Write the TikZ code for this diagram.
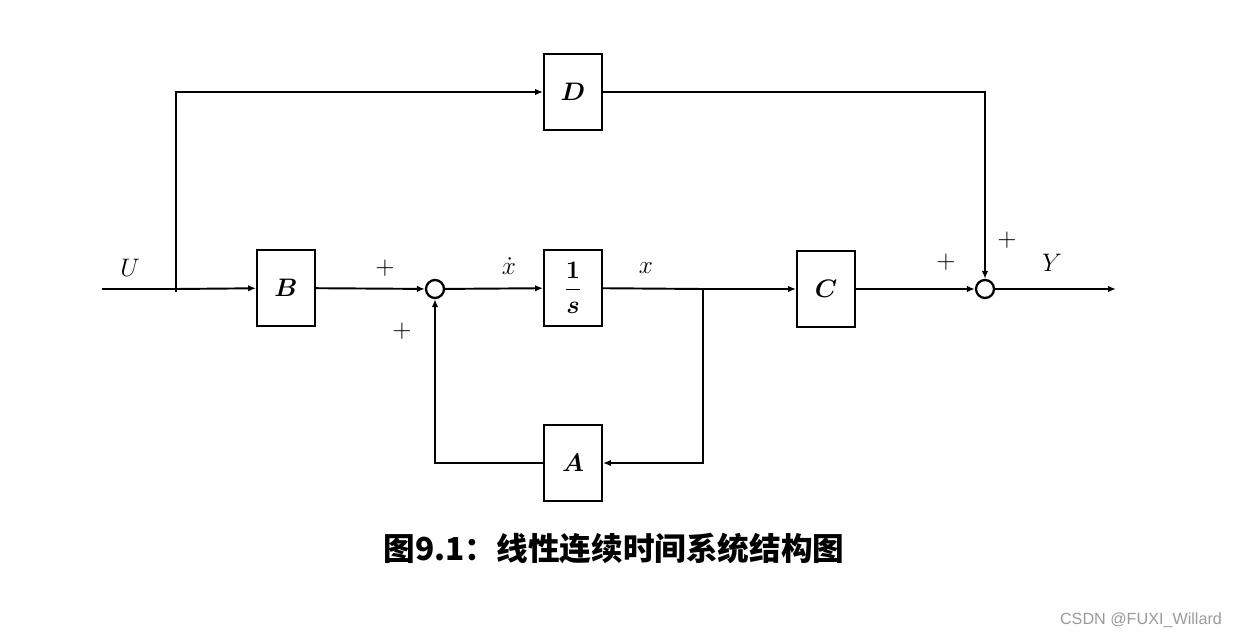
\documentclass[tikz,border=0pt]{standalone}
\usepackage{amsmath,amssymb,bm}
\usepackage{fontspec}
\usetikzlibrary{arrows.meta,positioning,calc}
\newfontfamily\cjk{Noto Sans CJK SC}
\setsansfont{Liberation Sans}
\definecolor{ink}{HTML}{000000}
\definecolor{mark}{HTML}{9A9A9A}

\begin{document}
\begin{tikzpicture}[
  x=0.02cm,y=-0.02cm,
  every node/.style={font=\fontsize{15}{18}\selectfont},
  block/.style={rectangle,draw=ink,line width=1.1pt,minimum width=1.16cm,minimum height=1.52cm,inner sep=0pt},
  sum/.style={circle,draw=ink,line width=1.3pt,fill=white,minimum size=0.36cm,inner sep=0pt},
  line/.style={line width=1.1pt,color=ink},
  sig/.style={line,-{Latex[length=1.6mm,width=1.3mm]}}
]
\useasboundingbox (0,0) rectangle (1236,638);
% blocks
\node[block] (D) at (573,92) {$\bm{D}$};
\node[block] (B) at (286,288) {$\bm{B}$};
\node[block] (I) at (573,288) {$\dfrac{\bm{1}}{\bm{s}}$};
\node[block] (C) at (826,289) {$\bm{C}$};
\node[block] (A) at (573,463) {$\bm{A}$};
\node[sum] (S1) at (435,289) {};
\node[sum] (S2) at (985,289) {};
\coordinate (in) at (102,289);
\coordinate (br1) at (176,289);
\coordinate (br2) at (703,289);
\coordinate (out) at (1116,289);
% connectors
\draw[line] (in) -- (br1);
\draw[sig] (br1) -- (B);
\draw[sig] ($(br1)+(0,3)$) |- (D);
\draw[sig] (B) -- (S1);
\draw[sig] (S1) -- (I);
\draw[line] (I) -- (br2);
\draw[sig] (br2) -- (C);
\draw[sig] (br2) |- (A);
\draw[sig] (A) -| (S1);
\draw[sig] (C) -- (S2);
\draw[sig] (D) -| (S2);
\draw[sig] (S2) -- (out);
% labels
\node (lU) at (130,268) {$U$};
\node (lp1) at (385,268) {$+$};
\node (lp2) at (402,331) {$+$};
\node (lxd) at (509,266) {$\dot{x}$};
\node (lx) at (646,268) {$x$};
\node (lp3) at (946,262) {$+$};
\node (lp4) at (1007,240) {$+$};
\node (lY) at (1052,263) {$Y$};
\node (cap) at (614,548) {\fontsize{18}{22}\selectfont\cjk\bfseries 图9.1：线性连续时间系统结构图};
\node[text=mark] (wm) at (1141,620) {\fontsize{9.2}{11}\selectfont\sffamily CSDN @FUXI\_Willard};
\end{tikzpicture}
\end{document}
